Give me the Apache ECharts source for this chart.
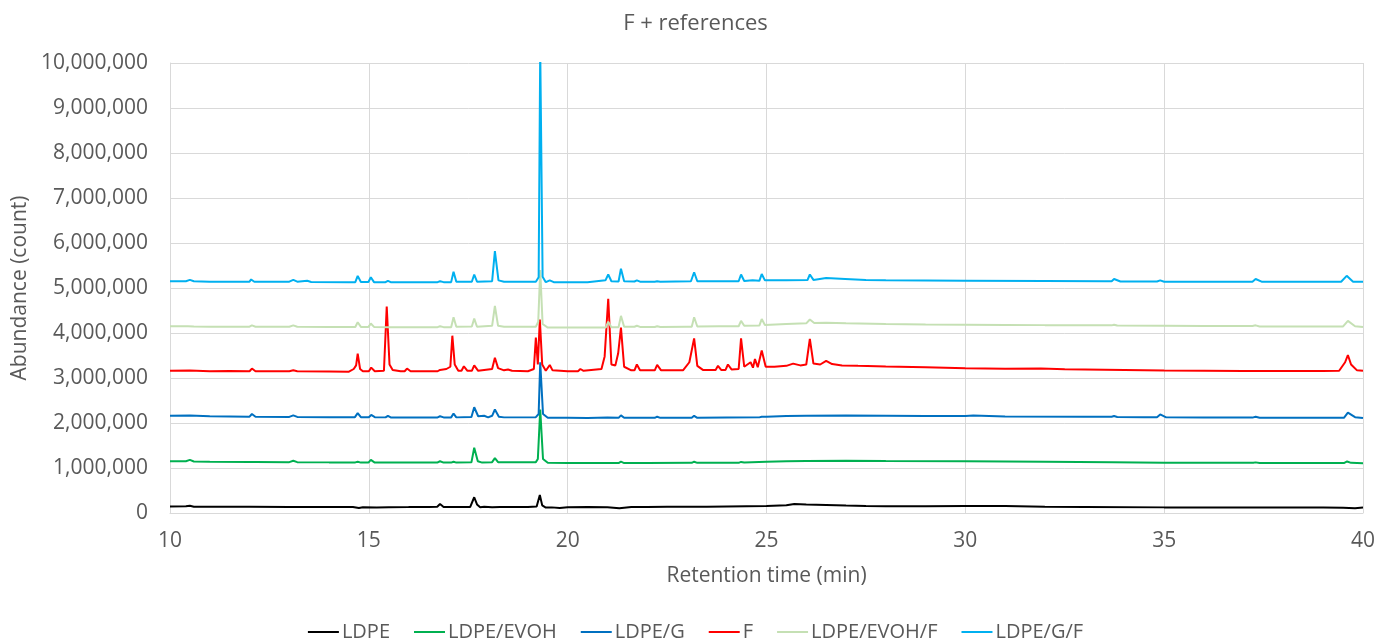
<!DOCTYPE html>
<html>
<head>
<meta charset="utf-8">
<script src="https://cdn.jsdelivr.net/npm/echarts@6/dist/echarts.min.js"></script>
<style>
html,body{margin:0;padding:0;background:#fff;}
#chart{width:1391px;height:639px;}
</style>
</head>
<body>
<div id="chart"></div>
<script>
// Series names (legend order)
const seriesNames = ['LDPE', 'LDPE/EVOH', 'LDPE/G', 'F', 'LDPE/EVOH/F', 'LDPE/G/F'];
const seriesColors = ['#000000', '#00b050', '#0070c0', '#ff0000', '#c5e0b4', '#00b0f0'];

// X axis ticks (retention time, min)
const xTicks = [10, 15, 20, 25, 30, 35, 40];
// Y axis ticks (abundance, count)
const yTicks = [0, 1000000, 2000000, 3000000, 4000000, 5000000, 6000000, 7000000, 8000000, 9000000, 10000000];

// [retention time (min), abundance (count)]
const LDPE = [
  [10.0,145000],[10.4,150000],[10.5,160000],[10.6,140000],[11.0,140000],[12.0,138000],[13.0,135000],
  [14.0,132000],[14.6,133000],[14.75,110000],[14.85,128000],[15.2,120000],[15.5,130000],[16.0,132000],
  [16.5,135000],[16.72,140000],[16.79,200000],[16.88,135000],[17.2,133000],[17.55,135000],[17.6,170000],
  [17.65,350000],[17.72,190000],[17.8,130000],[17.9,140000],[18.1,128000],[18.3,135000],[19.0,133000],
  [19.22,145000],[19.3,400000],[19.36,170000],[19.45,120000],[19.6,125000],[19.8,110000],[20.0,130000],
  [20.5,135000],[21.0,130000],[21.3,105000],[21.6,135000],[22.0,135000],[22.5,138000],[23.0,140000],
  [23.5,140000],[24.0,145000],[24.5,150000],[25.0,155000],[25.5,170000],[25.7,200000],[26.0,190000],
  [26.5,180000],[27.0,165000],[27.5,155000],[28.0,150000],[29.0,150000],[30.0,155000],[31.0,155000],
  [32.0,140000],[33.0,135000],[35.0,125000],[37.0,120000],[39.0,120000],[39.5,115000],[39.8,105000],[40.0,120000]
];

const LDPE_EVOH = [
  [10,1150000],[10.4,1150000],[10.5,1180000],[10.6,1145000],[11,1140000],[12,1135000],[12.05,1150000],
  [12.15,1135000],[13.0,1130000],[13.1,1160000],[13.2,1130000],[14,1125000],[14.66,1125000],[14.72,1140000],
  [14.8,1120000],[14.99,1120000],[15.05,1180000],[15.15,1120000],[15.5,1120000],[16.0,1120000],[16.72,1120000],
  [16.79,1150000],[16.88,1120000],[17.07,1120000],[17.13,1140000],[17.2,1120000],[17.58,1125000],[17.65,1450000],
  [17.74,1150000],[17.85,1120000],[18.1,1130000],[18.17,1220000],[18.25,1130000],[19.2,1130000],[19.25,1200000],
  [19.31,2300000],[19.38,1200000],[19.5,1115000],[20.0,1110000],[21.0,1110000],[21.28,1110000],[21.34,1140000],
  [21.42,1110000],[22,1110000],[23.12,1115000],[23.18,1140000],[23.26,1115000],[24.3,1115000],[24.36,1135000],
  [24.44,1120000],[25,1140000],[25.5,1150000],[26,1155000],[27,1160000],[28,1155000],[30,1150000],[32,1140000],
  [33.7,1130000],[35,1115000],[37.24,1115000],[37.3,1125000],[37.4,1110000],[39.52,1110000],[39.6,1145000],
  [39.7,1115000],[40,1105000]
];

const LDPE_G = [
  [10,2160000],[10.5,2165000],[11,2150000],[12,2140000],[12.06,2200000],[12.15,2140000],[13,2135000],
  [13.1,2170000],[13.2,2135000],[14,2130000],[14.65,2130000],[14.72,2220000],[14.8,2130000],[15.0,2130000],
  [15.06,2180000],[15.15,2130000],[15.42,2125000],[15.48,2160000],[15.55,2125000],[16.5,2125000],[16.73,2125000],
  [16.79,2150000],[16.88,2125000],[17.07,2125000],[17.13,2210000],[17.2,2125000],[17.58,2135000],[17.65,2350000],
  [17.75,2150000],[17.9,2160000],[18.0,2125000],[18.1,2160000],[18.17,2300000],[18.27,2140000],[18.4,2125000],
  [19.2,2130000],[19.27,2200000],[19.31,3350000],[19.38,2200000],[19.5,2115000],[20,2115000],[20.5,2110000],
  [21.0,2120000],[21.28,2115000],[21.34,2170000],[21.42,2115000],[22,2115000],[22.19,2115000],[22.25,2140000],
  [22.33,2115000],[23.12,2115000],[23.18,2160000],[23.26,2115000],[24,2120000],[24.82,2125000],[24.88,2140000],
  [25.0,2140000],[25.5,2155000],[26,2160000],[27,2165000],[28,2160000],[29,2155000],[30,2155000],[30.2,2165000],
  [31,2145000],[33,2140000],[33.68,2140000],[33.74,2155000],[33.82,2135000],[34.5,2130000],[34.82,2130000],
  [34.9,2190000],[35.05,2125000],[36,2120000],[37.22,2120000],[37.3,2140000],[37.4,2115000],[39.52,2115000],
  [39.62,2230000],[39.8,2130000],[40,2110000]
];

const F = [
  [10,3160000],[10.5,3165000],[11,3150000],[11.5,3155000],[12,3150000],[12.06,3210000],[12.15,3150000],
  [13,3150000],[13.1,3170000],[13.2,3150000],[14,3145000],[14.5,3140000],[14.62,3200000],[14.68,3280000],
  [14.72,3540000],[14.78,3200000],[14.85,3150000],[15.0,3150000],[15.06,3230000],[15.15,3150000],[15.38,3160000],
  [15.45,4590000],[15.52,3300000],[15.6,3180000],[15.8,3150000],[15.9,3150000],[15.96,3210000],[16.05,3150000],
  [16.73,3150000],[16.79,3180000],[16.95,3200000],[17.05,3250000],[17.1,3940000],[17.16,3300000],[17.25,3160000],
  [17.33,3160000],[17.39,3260000],[17.48,3160000],[17.59,3160000],[17.65,3280000],[17.75,3160000],[18.1,3200000],
  [18.17,3450000],[18.25,3220000],[18.4,3170000],[18.5,3190000],[18.6,3160000],[19.0,3150000],[19.15,3200000],
  [19.2,3900000],[19.25,3300000],[19.3,4300000],[19.36,3300000],[19.45,3160000],[19.55,3290000],
  [19.62,3170000],[20,3150000],[20.26,3150000],[20.32,3200000],[20.4,3160000],[20.85,3200000],[20.93,3480000],
  [21.02,4760000],[21.1,3300000],[21.2,3280000],[21.27,3550000],[21.34,4120000],[21.42,3250000],
  [21.6,3170000],[21.68,3170000],[21.74,3300000],[21.82,3170000],[22.19,3170000],[22.25,3290000],[22.35,3170000],
  [22.9,3170000],[23.06,3350000],[23.18,3880000],[23.26,3270000],[23.4,3180000],[23.72,3180000],[23.78,3270000],
  [23.86,3180000],[23.97,3180000],[24.03,3300000],[24.12,3190000],[24.3,3200000],[24.36,3880000],[24.44,3250000],
  [24.6,3350000],[24.66,3230000],[24.71,3420000],[24.78,3240000],[24.88,3610000],[24.98,3250000],[25.2,3250000],
  [25.5,3270000],[25.67,3320000],[25.85,3280000],[26.0,3300000],[26.09,3870000],[26.18,3320000],
  [26.35,3300000],[26.5,3380000],[26.65,3310000],[26.9,3280000],[27.3,3270000],[28,3255000],[29,3240000],
  [30,3215000],[31,3205000],[31.9,3210000],[32.5,3195000],[33,3190000],[34,3180000],[35,3165000],
  [36,3160000],[37,3155000],[38,3155000],[39,3155000],[39.4,3160000],[39.55,3350000],[39.62,3510000],
  [39.7,3300000],[39.85,3170000],[40,3160000]
];

const LDPE_EVOH_F = [
  [10,4150000],[10.45,4150000],[10.5,4170000],[10.6,4145000],[11,4140000],[12,4140000],[12.06,4170000],
  [12.15,4140000],[13,4140000],[13.1,4170000],[13.2,4140000],[14,4135000],[14.66,4135000],[14.72,4240000],
  [14.8,4135000],[14.99,4135000],[15.05,4210000],[15.13,4135000],[15.5,4130000],[16.5,4130000],[16.73,4130000],
  [16.79,4150000],[16.88,4130000],[17.07,4130000],[17.13,4350000],[17.2,4140000],[17.59,4145000],[17.65,4320000],
  [17.72,4140000],[18.1,4160000],[18.17,4600000],[18.25,4160000],[18.4,4140000],[19.2,4140000],[19.26,4250000],
  [19.31,5400000],[19.37,4200000],[19.5,4120000],[20,4120000],[20.5,4125000],[20.96,4125000],[21.02,4250000],
  [21.1,4130000],[21.28,4130000],[21.34,4380000],[21.42,4140000],[21.68,4140000],[21.74,4160000],[21.82,4135000],
  [22.19,4135000],[22.25,4150000],[22.33,4135000],[23.0,4140000],[23.12,4140000],[23.18,4350000],[23.26,4145000],
  [23.8,4150000],[24.3,4150000],[24.36,4270000],[24.44,4160000],[24.82,4165000],[24.88,4310000],[24.96,4180000],
  [25.5,4200000],[26,4215000],[26.09,4300000],[26.2,4220000],[26.5,4230000],[27,4215000],[28,4200000],
  [29,4190000],[30,4185000],[31,4180000],[32,4175000],[33.68,4170000],[33.74,4185000],[33.82,4165000],
  [35,4160000],[36,4155000],[37.22,4155000],[37.3,4170000],[37.4,4145000],[39.5,4145000],
  [39.62,4270000],[39.8,4150000],[40,4135000]
];

const LDPE_G_F = [
  [10,5150000],[10.4,5150000],[10.5,5180000],[10.6,5150000],[11,5140000],[12,5140000],[12.04,5190000],
  [12.12,5140000],[13,5140000],[13.1,5180000],[13.2,5140000],[13.45,5160000],[13.55,5135000],[14.5,5130000],
  [14.66,5130000],[14.72,5270000],[14.8,5135000],[14.99,5135000],[15.05,5240000],[15.13,5130000],[15.42,5130000],
  [15.48,5160000],[15.55,5130000],[16.5,5130000],[16.73,5130000],[16.79,5150000],[16.88,5130000],[17.07,5130000],
  [17.13,5360000],[17.2,5140000],[17.59,5140000],[17.65,5300000],[17.72,5140000],[18.1,5150000],[18.17,5820000],
  [18.26,5170000],[18.4,5140000],[19.2,5140000],[19.27,5240000],[19.31,10300000],[19.37,5250000],[19.45,5130000],
  [19.55,5170000],[19.65,5130000],[20,5130000],[20.5,5130000],[20.95,5170000],[21.02,5300000],[21.1,5150000],
  [21.28,5145000],[21.34,5430000],[21.42,5150000],[21.68,5145000],[21.74,5170000],[21.82,5140000],[22.19,5140000],
  [22.25,5150000],[22.33,5140000],[23.1,5150000],[23.18,5350000],[23.26,5150000],[24.0,5150000],[24.3,5150000],
  [24.36,5300000],[24.44,5155000],[24.65,5170000],[24.82,5160000],[24.88,5310000],[24.96,5170000],[25.5,5170000],
  [26.03,5175000],[26.09,5300000],[26.18,5180000],[26.5,5220000],[26.98,5200000],[27.5,5180000],[28,5170000],
  [29,5165000],[30,5160000],[32,5155000],[33.5,5150000],[33.68,5150000],[33.74,5200000],[33.9,5145000],
  [34.82,5145000],[34.9,5170000],[35,5140000],[37.22,5140000],[37.3,5200000],[37.45,5140000],[39.45,5140000],
  [39.59,5270000],[39.75,5140000],[40,5140000]
];

const seriesData = [LDPE, LDPE_EVOH, LDPE_G, F, LDPE_EVOH_F, LDPE_G_F];

const FONT = '"Open Sans", "Liberation Sans", sans-serif';
const TXT = '#595959';
const GRIDC = '#d9d9d9';

const chart = echarts.init(document.getElementById('chart'));
chart.setOption({
  animation: false,
  backgroundColor: '#ffffff',
  title: {
    text: 'F + references',
    left: 'center',
    top: 8,
    textStyle: { fontFamily: FONT, fontSize: 22, fontWeight: 'normal', color: TXT }
  },
  legend: {
    data: seriesNames,
    top: 617,
    left: 'center',
    icon: 'rect',
    itemWidth: 31,
    itemHeight: 2,
    itemGap: 24,
    textStyle: { fontFamily: FONT, fontSize: 20, color: TXT, padding: [0, 0, 0, -2] }
  },
  grid: { left: 170, right: 28, top: 63, bottom: 126 },
  xAxis: {
    type: 'value',
    min: xTicks[0],
    max: xTicks[xTicks.length - 1],
    interval: 5,
    name: 'Retention time (min)',
    nameLocation: 'middle',
    nameGap: 53,
    nameTextStyle: { fontFamily: FONT, fontSize: 21, color: TXT },
    axisLine: { show: true, lineStyle: { color: GRIDC, width: 1 } },
    axisTick: { show: false },
    axisLabel: { fontFamily: FONT, fontSize: 21, color: TXT, margin: 18 },
    splitLine: { show: true, lineStyle: { color: GRIDC, width: 1 } }
  },
  yAxis: {
    type: 'value',
    min: yTicks[0],
    max: yTicks[yTicks.length - 1],
    interval: 1000000,
    name: 'Abundance (count)',
    nameLocation: 'middle',
    nameGap: 135,
    nameTextStyle: { fontFamily: FONT, fontSize: 21, color: TXT },
    axisLine: { show: true, lineStyle: { color: GRIDC, width: 1 } },
    axisTick: { show: false },
    axisLabel: {
      fontFamily: FONT, fontSize: 21, color: TXT, margin: 22,
      formatter: v => String(v).replace(/\B(?=(\d{3})+(?!\d))/g, ',')
    },
    splitLine: { show: true, lineStyle: { color: GRIDC, width: 1 } }
  },
  series: seriesNames.map((name, i) => ({
    name: name,
    type: 'line',
    data: seriesData[i],
    showSymbol: false,
    symbol: 'none',
    clip: true,
    color: seriesColors[i],
    lineStyle: { color: seriesColors[i], width: 2 },
    emphasis: { disabled: true }
  }))
});
</script>
</body>
</html>
